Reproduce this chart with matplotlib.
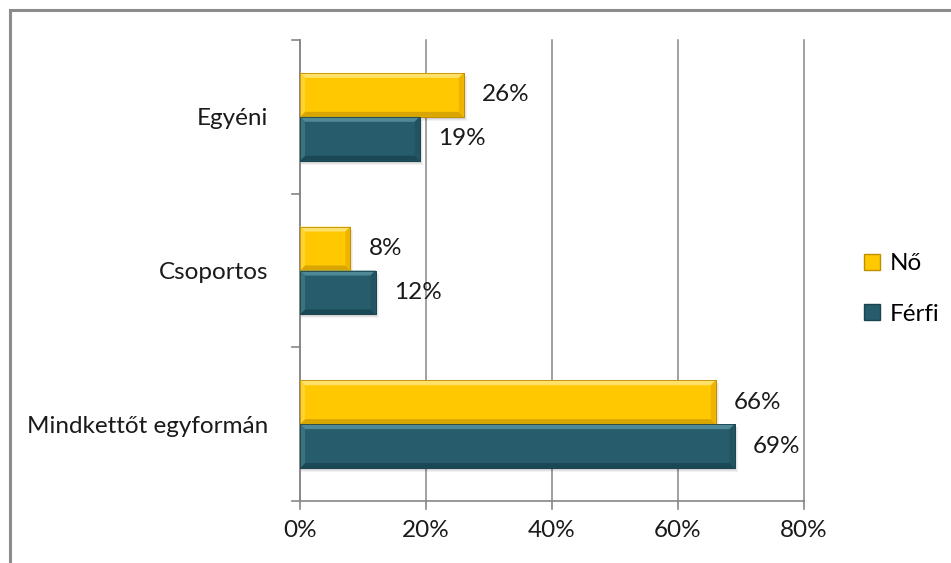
import matplotlib.pyplot as plt
import matplotlib.patches as mpatches
from matplotlib.lines import Line2D
from matplotlib.transforms import blended_transform_factory, IdentityTransform
import numpy as np

categories = ["Egyéni", "Csoportos", "Mindkettőt egyformán"]
series_names = ["Nő", "Férfi"]
no_values = [26, 8, 66]
ferfi_values = [19, 12, 69]
x_ticks = [0, 20, 40, 60, 80]
x_tick_labels = ["0%", "20%", "40%", "60%", "80%"]

plt.rcParams['font.family'] = ['Lato', 'DejaVu Sans']
FS = 17.5
TXT = '#1a1a1a'
GRID = '#868686'

W, H = 951, 563
fig = plt.figure(figsize=(W / 100, H / 100), dpi=100)

# outer chart-area frame
frame = mpatches.Rectangle((10 / W, -0.05), 1.0, (H - 10) / H + 0.05, transform=fig.transFigure,
                           fill=False, edgecolor='#8c8c8c', linewidth=2.2)
fig.patches.append(frame)

ax = fig.add_axes([300 / W, (H - 501) / H, (804 - 300) / W, (501 - 40) / H])

colors = {
    "Nő": dict(face='#FFC800', top='#FFE06A', left='#FFD331', right='#EDB500',
               bottom='#D9A500', edge='#BE8E00'),
    "Férfi": dict(face='#265C6B', top='#4F8896', left='#3B7280', right='#215361',
                  bottom='#1B4855', edge='#1A4450'),
}

n = len(categories)
y_centers = np.arange(n)
bar_h = 0.286

ax.set_xlim(0, 80)
ax.set_ylim(n - 0.5, -0.5)

bars = []
for i in range(n):
    y_no = y_centers[i] - bar_h / 2
    y_fe = y_centers[i] + bar_h / 2
    b1 = ax.barh(y_no, no_values[i], height=bar_h, color=colors["Nő"]['face'],
                 edgecolor=colors["Nő"]['edge'], linewidth=0.6, zorder=3)
    b2 = ax.barh(y_fe, ferfi_values[i], height=bar_h, color=colors["Férfi"]['face'],
                 edgecolor=colors["Férfi"]['edge'], linewidth=0.6, zorder=3)
    bars.append((b1[0], colors["Nő"]))
    bars.append((b2[0], colors["Férfi"]))
    ax.annotate(f"{no_values[i]}%", (no_values[i], y_no), xytext=(18, 0), textcoords='offset pixels',
                va='center', ha='left', fontsize=FS, color=TXT)
    ax.annotate(f"{ferfi_values[i]}%", (ferfi_values[i], y_fe), xytext=(18, 0), textcoords='offset pixels',
                va='center', ha='left', fontsize=FS, color=TXT)

# bevelled faces: trapezoids along each edge of every bar, in pixel units
fig.canvas.draw()
bw = 5
for rect, c in bars:
    (x0, y0), (x1, y1) = ax.transData.transform(
        [(rect.get_x(), rect.get_y() + rect.get_height()), (rect.get_x() + rect.get_width(), rect.get_y())])
    b = min(bw, (x1 - x0) / 2)
    # soft shadow under the bar
    for k, a in [(4, 0.05), (3, 0.06), (2, 0.07)]:
        ax.add_artist(mpatches.Polygon([(x0 + 1, y0 - k), (x1 + k - 1, y0 - k), (x1 + k - 1, y1 - 3), (x0 + 1, y1 - 3)],
                                       closed=True, transform=IdentityTransform(), facecolor='#000000',
                                       alpha=a, edgecolor='none', zorder=2.5))
    polys = [
        ([(x0, y1), (x1, y1), (x1 - b, y1 - b), (x0 + b, y1 - b)], c['top']),
        ([(x0, y0), (x1, y0), (x1 - b, y0 + b), (x0 + b, y0 + b)], c['bottom']),
        ([(x0, y0), (x0, y1), (x0 + b, y1 - b), (x0 + b, y0 + b)], c['left']),
        ([(x1, y0), (x1, y1), (x1 - b, y1 - b), (x1 - b, y0 + b)], c['right']),
    ]
    for pts, col in polys:
        ax.add_artist(mpatches.Polygon(pts, closed=True, transform=IdentityTransform(), facecolor=col,
                                       edgecolor='none', zorder=4))
    ax.add_artist(mpatches.Polygon([(x0, y0), (x1, y0), (x1, y1), (x0, y1)], closed=True,
                                   transform=IdentityTransform(), facecolor='none',
                                   edgecolor=c['edge'], linewidth=0.6, zorder=5))

ax.set_xticks(x_ticks)
ax.set_xticklabels(x_tick_labels, fontsize=FS, color=TXT)
ax.set_yticks(y_centers)
ax.set_yticklabels(categories, fontsize=FS, color=TXT)
ax.tick_params(axis='y', length=0, pad=23)
ax.tick_params(axis='x', length=0, pad=14)

# category separator ticks on the y axis and value ticks below the x axis
ty = blended_transform_factory(fig.dpi_scale_trans, ax.transData)
x0in = ax.transAxes.transform((0, 0))[0] / fig.dpi
for yb in np.arange(-0.5, n, 1.0):
    ax.add_line(Line2D([x0in - 0.08, x0in], [yb, yb], transform=ty, color=GRID, linewidth=1.2,
                       clip_on=False, zorder=6))
y0in = ax.transAxes.transform((0, 0))[1] / fig.dpi
tx = blended_transform_factory(ax.transData, fig.dpi_scale_trans)
for xv in x_ticks:
    ax.add_line(Line2D([xv, xv], [y0in - 0.08, y0in], transform=tx, color=GRID, linewidth=1.2,
                       clip_on=False, zorder=6))

ax.grid(axis='x', color=GRID, linewidth=1.1, zorder=0)
for gl in ax.get_xgridlines():
    gl.set_clip_on(False)
ax.set_axisbelow(True)
for s in ['top', 'right']:
    ax.spines[s].set_visible(False)
for s in ['left', 'bottom']:
    ax.spines[s].set_color(GRID)
    ax.spines[s].set_linewidth(1.2)

handles = [mpatches.Patch(facecolor=colors[k]['face'], edgecolor=colors[k]['edge'], label=k)
           for k in series_names]
fig.legend(handles=handles, loc='center left', bbox_to_anchor=(864 / W, 1 - 289 / H),
           frameon=False, fontsize=FS, handlelength=0.65, handleheight=0.65, labelspacing=1.2,
           handletextpad=0.4, borderaxespad=0, borderpad=0)

fig.savefig("out.png", dpi=100, facecolor='white')
